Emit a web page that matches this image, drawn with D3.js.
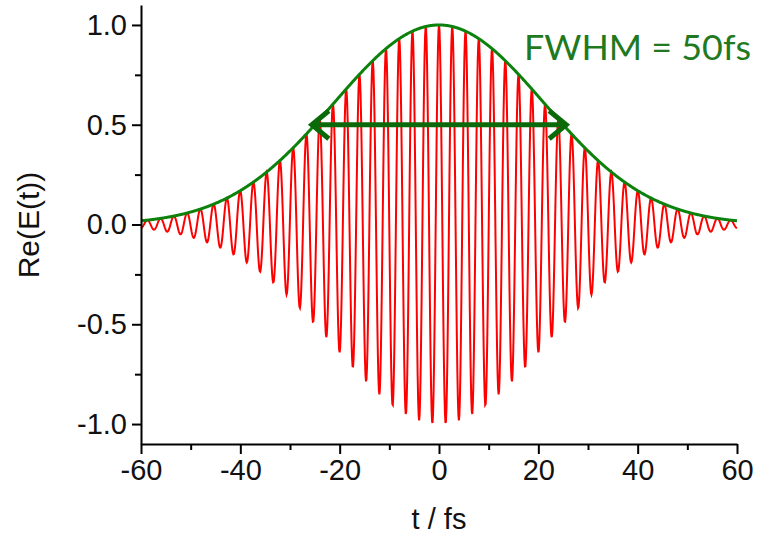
<!DOCTYPE html>
<html>
<head>
<meta charset="utf-8">
<script src="https://cdn.jsdelivr.net/npm/d3@7"></script>
<style>
  body { margin: 0; background: #fff; }
  .axis text { font-family: "Liberation Sans", Arial, sans-serif; font-size: 29px; fill: #111; }
  .axis path, .axis line { stroke: #000; stroke-width: 2; }
</style>
</head>
<body>
<div id="chart"></div>
<script>
// pulse values
var fwhm = [50];              // fs, as labelled
var carrierPeriod = [2.67];   // fs, peak spacing counted on the plot
var peakAmp = [1.0];
var tRange = [-60, 60];
var xTicks = [-60, -40, -20, 0, 20, 40, 60];
var xMinor = [-50, -30, -10, 10, 30, 50];
var yTicks = [-1.0, -0.5, 0.0, 0.5, 1.0];
var yMinor = [-0.75, -0.25, 0.25, 0.75];
var labelText = "FWHM = 50fs";

var w = 758, h = 540;

var x = d3.scaleLinear().domain(tRange).range([141, 737]);
var y = d3.scaleLinear().domain([-1.1, 1.1]).range([444, 5]);

var svg = d3.select("#chart").append("svg")
  .attr("width", w)
  .attr("height", h);

// envelope and field
var k = 4 * Math.LN2 / (fwhm[0] * fwhm[0]);
var env = function(t) { return peakAmp[0] * Math.exp(-k * t * t); };
var ts = d3.range(tRange[0], tRange[1] + 0.001, 0.1);
var field = ts.map(function(t) { return [t, env(t) * Math.cos(2 * Math.PI * t / carrierPeriod[0])]; });
var envPts = ts.map(function(t) { return [t, env(t)]; });

var line = d3.line()
  .x(function(d) { return x(d[0]); })
  .y(function(d) { return y(d[1]); });

svg.append("path")
  .datum(field)
  .attr("d", line)
  .attr("fill", "none")
  .attr("stroke", "#ff0000")
  .attr("stroke-width", 2);

svg.append("path")
  .datum(envPts)
  .attr("d", line)
  .attr("fill", "none")
  .attr("stroke", "#0c820c")
  .attr("stroke-width", 3);

// FWHM arrow
var half = fwhm[0] / 2;
var ya = y(0.5);
var arrowCol = "#0a6a0a";
var x1 = x(-half) - 3, x2 = x(half) + 3;
svg.append("line")
  .attr("x1", x1).attr("x2", x2)
  .attr("y1", ya).attr("y2", ya)
  .attr("stroke", arrowCol).attr("stroke-width", 5);
[[x1, 1], [x2, -1]].forEach(function(a) {
  svg.append("path")
    .attr("d", "M" + (a[0] + a[1] * 17) + "," + (ya - 14) + "L" + a[0] + "," + ya + "L" + (a[0] + a[1] * 17) + "," + (ya + 14))
    .attr("fill", "none")
    .attr("stroke", arrowCol)
    .attr("stroke-width", 5)
    .attr("stroke-linejoin", "miter");
});

// axes
var gx = svg.append("g").attr("class", "axis")
  .attr("transform", "translate(0," + 444 + ")")
  .call(d3.axisBottom(x).tickValues(xTicks).tickSize(10).tickSizeOuter(0).tickPadding(5).tickFormat(d3.format("d")));
gx.selectAll("text").text(function(d) { return d < 0 ? "-" + Math.abs(d) : d; });

svg.append("g").attr("class", "axis")
  .attr("transform", "translate(0," + 444 + ")")
  .call(d3.axisBottom(x).tickValues(xMinor).tickSize(6).tickFormat(""))
  .select(".domain").remove();

var gy = svg.append("g").attr("class", "axis")
  .attr("transform", "translate(" + 141 + ",0)")
  .call(d3.axisLeft(y).tickValues(yTicks).tickSize(9).tickSizeOuter(0).tickPadding(5)
    .tickFormat(function(d) { return (d < 0 ? "-" : "") + Math.abs(d).toFixed(1); }));

svg.append("g").attr("class", "axis")
  .attr("transform", "translate(" + 141 + ",0)")
  .call(d3.axisLeft(y).tickValues(yMinor).tickSize(6).tickFormat(""))
  .select(".domain").remove();

// axis titles
svg.append("text")
  .attr("x", 439).attr("y", 529)
  .attr("text-anchor", "middle")
  .style("font-family", "Liberation Sans, Arial, sans-serif")
  .style("font-size", "29px")
  .style("fill", "#111")
  .text("t / fs");

svg.append("text")
  .attr("transform", "translate(39,225) rotate(-90)")
  .attr("text-anchor", "middle")
  .style("font-family", "Liberation Sans, Arial, sans-serif")
  .style("font-size", "30px")
  .style("fill", "#111")
  .text("Re(E(t))");

svg.append("text")
  .attr("x", 524).attr("y", 60)
  .attr("textLength", 227)
  .attr("lengthAdjust", "spacingAndGlyphs")
  .style("font-family", "Lato, 'Open Sans', sans-serif")
  .style("font-size", "35px")
  .style("fill", "#1f7a1f")
  .text(labelText);
</script>
</body>
</html>
